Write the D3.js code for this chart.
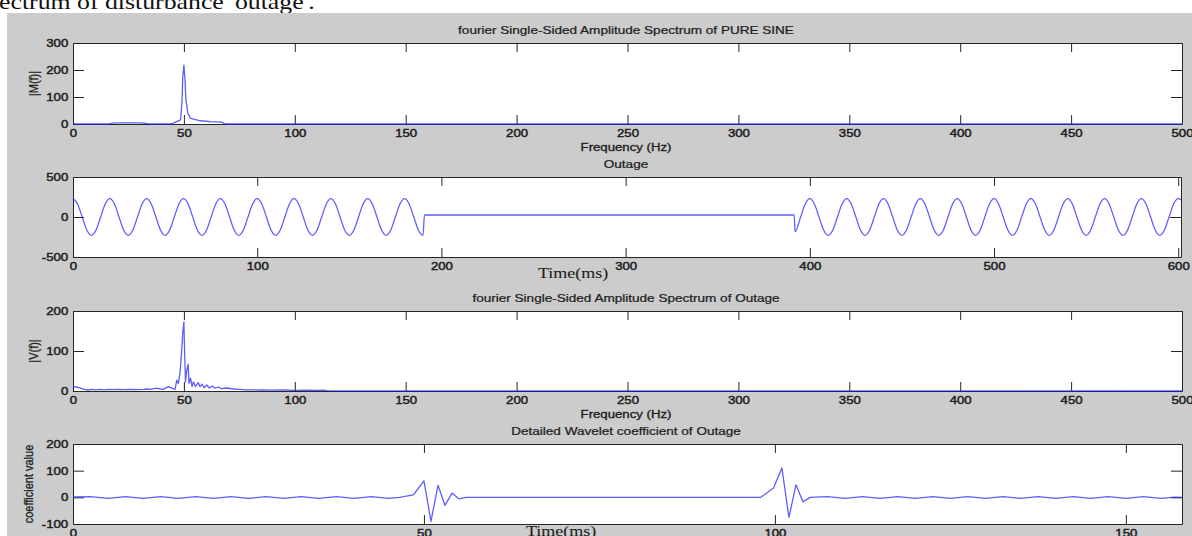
<!DOCTYPE html>
<html>
<head>
<meta charset="utf-8">
<script src="https://cdn.jsdelivr.net/npm/d3@7"></script>
<style>
  html, body { margin: 0; padding: 0; background: #ffffff; }
  svg { display: block; }
</style>
</head>
<body>
<svg id="chart" width="1192" height="536"></svg>
<script>
// ---------------- data ----------------

// Single-sided amplitude spectrum of the pure 50 Hz sine: [frequency Hz, |M(f)|]
const pureSineSpectrum = [
  [0,0],[16,0],[18,3],[20,4],[30,4],[32,3],[34,0],[44,0],[45,2],[48.5,15],[49.1,77],[49.5,176],
  [50,218],[50.5,164],[50.9,89],[51.8,40],[53,21],[57.5,12],[62,9],[67,7],[68.5,0],[500,0]
];

// Outage waveform: [time ms, amplitude]
const outageSignal = [
  [0,230],[2.5,163],[5,0],[7.5,-163],[10,-230],[12.5,-163],[15,0],[17.5,163],
  [20,230],[22.5,163],[25,0],[27.5,-163],[30,-230],[32.5,-163],[35,0],[37.5,163],
  [40,230],[42.5,163],[45,0],[47.5,-163],[50,-230],[52.5,-163],[55,0],[57.5,163],
  [60,230],[62.5,163],[65,0],[67.5,-163],[70,-230],[72.5,-163],[75,0],[77.5,163],
  [80,230],[82.5,163],[85,0],[87.5,-163],[90,-230],[92.5,-163],[95,0],[97.5,163],
  [100,230],[102.5,163],[105,0],[107.5,-163],[110,-230],[112.5,-163],[115,0],[117.5,163],
  [120,230],[122.5,163],[125,0],[127.5,-163],[130,-230],[132.5,-163],[135,0],[137.5,163],
  [140,230],[142.5,163],[145,0],[147.5,-163],[150,-230],[152.5,-163],[155,0],[157.5,163],
  [160,230],[162.5,163],[165,0],[167.5,-163],[170,-230],[172.5,-163],[175,0],[177.5,163],
  [180,230],[182.5,163],[185,0],[187.5,-163],[190,-230],
  [190.8,25],[391.5,25],[392,-186],[395,0],[397.5,163],
  [400,230],[402.5,163],[405,0],[407.5,-163],[410,-230],[412.5,-163],[415,0],[417.5,163],
  [420,230],[422.5,163],[425,0],[427.5,-163],[430,-230],[432.5,-163],[435,0],[437.5,163],
  [440,230],[442.5,163],[445,0],[447.5,-163],[450,-230],[452.5,-163],[455,0],[457.5,163],
  [460,230],[462.5,163],[465,0],[467.5,-163],[470,-230],[472.5,-163],[475,0],[477.5,163],
  [480,230],[482.5,163],[485,0],[487.5,-163],[490,-230],[492.5,-163],[495,0],[497.5,163],
  [500,230],[502.5,163],[505,0],[507.5,-163],[510,-230],[512.5,-163],[515,0],[517.5,163],
  [520,230],[522.5,163],[525,0],[527.5,-163],[530,-230],[532.5,-163],[535,0],[537.5,163],
  [540,230],[542.5,163],[545,0],[547.5,-163],[550,-230],[552.5,-163],[555,0],[557.5,163],
  [560,230],[562.5,163],[565,0],[567.5,-163],[570,-230],[572.5,-163],[575,0],[577.5,163],
  [580,230],[582.5,163],[585,0],[587.5,-163],[590,-230],[592.5,-163],[595,0],[597.5,163],
  [600,230],[601.5,215]
];

// Single-sided amplitude spectrum of the outage: [frequency Hz, |V(f)|]
const outageSpectrum = [
  [0,11],[1.5,10],[3,8],[5,4],[6.8,2.5],[8.5,4],[10,3],[12,4],[14,3],[16,4],[18,3.5],
  [20,4],[23,3.5],[26,4],[29,3.5],[32,4],[33,5],[35,4],[37.7,7],[39.5,5],[40.7,4],
  [43,11],[44.5,7],[46,4],[46.8,27],[47.5,19],[48.3,48],[49,100],[49.5,148],[50,173],
  [50.2,123],[50.7,23],[51.3,52],[51.9,67],[52.3,19],[53,32],[53.7,11],[54.3,23],
  [55.2,11],[56.4,21],[57.3,11],[58.2,17],[59.1,8],[60.3,15],[61.5,7.5],[62.7,12.5],
  [64,7],[65.6,10],[67,6],[69.4,7.5],[72.4,5],[75,4],[78.4,3],[85,2.5],[90,2],
  [95,2.5],[100,1.5],[105,2],[110,1.5],[113,2],[115,0.5],[500,0]
];

// Detail wavelet coefficients of the outage: [time ms, coefficient]
const waveletCoeff = [
  [0,2],[2.5,3],[5,-4],[7.5,3],[10,-4],[12.5,3],[15,-4],[17.5,3],[20,-4],[22.5,3],
  [25,-4],[27.5,3],[30,-4],[32.5,3],[35,-4],[37.5,3],[40,-4],[42.5,3],[45,-4],
  [46.5,0],[48.5,9],[50,62],[51,-90],[52,45],[53,-30],[54,16],[55,-6],[56,0],
  [98,0],[99.8,35],[101,110],[102,-75],[103,47],[104,-17],[105,0],
  [107.5,3],[110,-4],[112.5,3],[115,-4],[117.5,3],[120,-4],[122.5,3],[125,-4],
  [127.5,3],[130,-4],[132.5,3],[135,-4],[137.5,3],[140,-4],[142.5,3],[145,-4],
  [147.5,3],[150,-4],[152.5,3],[155,-4],[157,1],[158,0]
];

// tick values
const freqTicks = [0,50,100,150,200,250,300,350,400,450,500];
const timeTicks = [0,100,200,300,400,500,600];
const waveletTimeTicks = [0,50,100,150];
const pureAmpTicks = [0,100,200,300];
const outageAmpTicks = [-500,0,500];
const outageSpecTicks = [0,100,200];
const coeffTicks = [-100,0,100,200];

// ---------------- drawing ----------------
const SX = 1.2;                 // horizontal text stretch
const AXIS_COLOR = "#262626";
const TEXT_COLOR = "#1e1e1e";
const LINE_COLOR = "#2020ff";
const SANS = "'Liberation Sans', Arial, Helvetica, sans-serif";
const SERIF = "'Liberation Serif', 'Times New Roman', serif";
const LEFT = 73;
const plainNumber = d => String(d);   // hyphen-minus, as in the plotting tool

const svg = d3.select("#chart");

// document caption above the figure
svg.append("text")
  .attr("transform", `translate(-1,8.5) scale(${SX},1)`)
  .style("font-family", SERIF).style("font-size", "21.5px").attr("fill", "#111")
  .text("ectrum of disturbance 'outage'.");

// figure background
svg.append("rect").attr("x", 7).attr("y", 13).attr("width", 1185).attr("height", 523)
  .attr("fill", "#cccccc");

function addText(x, y, str, opts = {}) {
  const rot = opts.rotate ? " rotate(-90)" : "";
  return svg.append("text")
    .attr("transform", `translate(${x},${y}) scale(${SX},1)${rot}`)
    .attr("text-anchor", opts.anchor || "middle")
    .attr("dy", opts.dy || null)
    .style("font-family", opts.family || SANS)
    .style("font-size", (opts.size || 11) + "px")
    .attr("fill", TEXT_COLOR)
    .attr("stroke", TEXT_COLOR)
    .attr("stroke-width", opts.weight == null ? 0.25 : opts.weight)
    .text(str);
}

const panels = [
  { top: 43, bottom: 124, right: 1182, xDomain: [0, 500], yDomain: [0, 300],
    xTicks: freqTicks, yTicks: pureAmpTicks, data: pureSineSpectrum, curve: d3.curveLinear,
    title: "fourier Single-Sided Amplitude Spectrum of PURE SINE",
    xLabel: { text: "Frequency (Hz)", x: 626, dy: 27.3, family: SANS, size: 11 },
    yLabel: { text: "|M(f)|", x: 33 } },
  { top: 177, bottom: 257, right: 1181, xDomain: [0, 601.5], yDomain: [-500, 500],
    xTicks: timeTicks, yTicks: outageAmpTicks, data: outageSignal, curve: d3.curveMonotoneX,
    title: "Outage",
    xLabel: { text: "Time(ms)", x: 573, dy: 21, family: SERIF, size: 15 },
    yLabel: null },
  { top: 311, bottom: 391, right: 1182, xDomain: [0, 500], yDomain: [0, 200],
    xTicks: freqTicks, yTicks: outageSpecTicks, data: outageSpectrum, curve: d3.curveLinear,
    title: "fourier Single-Sided Amplitude Spectrum of Outage",
    xLabel: { text: "Frequency (Hz)", x: 626, dy: 27.3, family: SANS, size: 11 },
    yLabel: { text: "|V(f)|", x: 33 } },
  { top: 444, bottom: 524, right: 1182, xDomain: [0, 158], yDomain: [-100, 200],
    xTicks: waveletTimeTicks, yTicks: coeffTicks, data: waveletCoeff, curve: d3.curveLinear,
    title: "Detailed Wavelet coefficient of Outage",
    xLabel: { text: "Time(ms)", x: 561, dy: 11.8, family: SERIF, size: 15 },
    yLabel: { text: "coefficient value", x: 28 } }
];

function styleAxis(sel, withLabels) {
  sel.attr("font-family", null).attr("font-size", null);
  sel.select(".domain").attr("stroke", AXIS_COLOR).attr("stroke-width", 1);
  sel.selectAll(".tick line").attr("stroke", AXIS_COLOR).attr("stroke-width", 1);
  if (withLabels) {
    sel.selectAll(".tick text")
      .attr("fill", TEXT_COLOR)
      .attr("stroke", TEXT_COLOR)
      .attr("stroke-width", 0.45)
      .style("font-family", SANS)
      .style("font-size", "11px")
      .attr("transform", `scale(${SX},1)`);
  } else {
    sel.selectAll(".tick text").remove();
  }
}

panels.forEach(p => {
  const x = d3.scaleLinear().domain(p.xDomain).range([LEFT, p.right]);
  const y = d3.scaleLinear().domain(p.yDomain).range([p.bottom, p.top]);

  svg.append("rect")
    .attr("x", LEFT).attr("y", p.top)
    .attr("width", p.right - LEFT).attr("height", p.bottom - p.top)
    .attr("fill", "#ffffff");

  const g = svg.append("g");

  g.append("g").attr("transform", `translate(0,${p.bottom})`)
    .call(d3.axisBottom(x).tickValues(p.xTicks).tickSizeInner(-9).tickSizeOuter(0)
      .tickPadding(5).tickFormat(plainNumber))
    .call(s => styleAxis(s, true));
  g.append("g").attr("transform", `translate(0,${p.top})`)
    .call(d3.axisTop(x).tickValues(p.xTicks).tickSizeInner(-9).tickSizeOuter(0))
    .call(s => styleAxis(s, false));
  g.append("g").attr("transform", `translate(${LEFT},0)`)
    .call(d3.axisLeft(y).tickValues(p.yTicks).tickSizeInner(-11).tickSizeOuter(0)
      .tickPadding(4).tickFormat(plainNumber))
    .call(s => styleAxis(s, true));
  g.append("g").attr("transform", `translate(${p.right},0)`)
    .call(d3.axisRight(y).tickValues(p.yTicks).tickSizeInner(-11).tickSizeOuter(0))
    .call(s => styleAxis(s, false));

  // data trace
  const line = d3.line().x(d => x(d[0])).y(d => y(d[1])).curve(p.curve);
  svg.append("path").datum(p.data)
    .attr("d", line)
    .attr("fill", "none")
    .attr("stroke", LINE_COLOR)
    .attr("stroke-opacity", 0.72)
    .attr("stroke-width", 1.3)
    .attr("stroke-linejoin", "round");

  // titles and axis labels
  addText(626, p.top - 8.6, p.title, { size: 11.3 });
  addText(p.xLabel.x, p.bottom + p.xLabel.dy, p.xLabel.text,
    { family: p.xLabel.family, size: p.xLabel.size,
      weight: p.xLabel.family === SERIF ? 0.1 : 0.35 });
  if (p.yLabel) {
    addText(p.yLabel.x, (p.top + p.bottom) / 2, p.yLabel.text, { rotate: true, dy: "0.35em" });
  }
});
</script>
</body>
</html>
